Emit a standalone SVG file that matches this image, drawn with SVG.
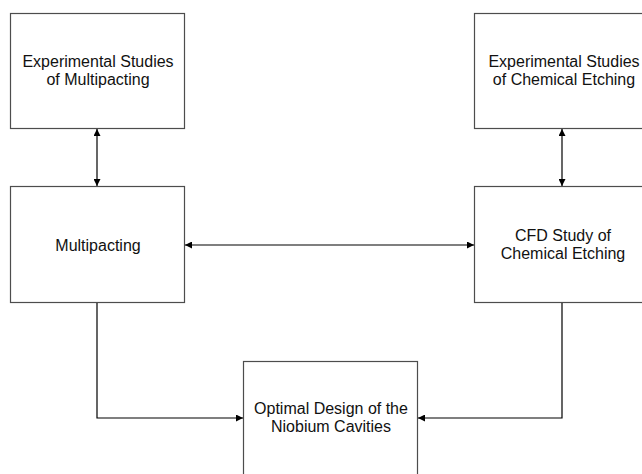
<svg xmlns="http://www.w3.org/2000/svg" width="642" height="474" viewBox="0 0 642 474">
<style>
.box{fill:#fff;stroke:#4d4d4d;stroke-width:1.2}
.lbl{font-family:"Liberation Sans",Arial,sans-serif;font-size:16px;fill:#111;text-anchor:middle}
.con{fill:none;stroke:#000;stroke-width:1.2}
</style>
<defs>
<marker id="ah" viewBox="0 0 10 10" refX="10" refY="5" markerWidth="8" markerHeight="7" markerUnits="userSpaceOnUse" orient="auto-start-reverse">
<path d="M0,0 L10,5 L0,10 z" fill="#000"/>
</marker>
</defs>
<rect width="642" height="474" fill="#fff"/>
<g id="exp-multipacting">
<rect class="box" x="10.5" y="13.5" width="174" height="115"/>
<text class="lbl" x="98" y="67">Experimental Studies</text>
<text class="lbl" x="98" y="85">of Multipacting</text>
</g>
<g id="exp-etching">
<rect class="box" x="474.5" y="13.5" width="174" height="115"/>
<text class="lbl" x="564" y="67">Experimental Studies</text>
<text class="lbl" x="564" y="85">of Chemical Etching</text>
</g>
<g id="multipacting">
<rect class="box" x="10.5" y="186.5" width="174" height="116"/>
<text class="lbl" x="98" y="251">Multipacting</text>
</g>
<g id="cfd-etching">
<rect class="box" x="474.5" y="186.5" width="174" height="116"/>
<text class="lbl" x="563" y="241">CFD Study of</text>
<text class="lbl" x="563" y="259">Chemical Etching</text>
</g>
<g id="optimal-design">
<rect class="box" x="243.5" y="361.5" width="174" height="120"/>
<text class="lbl" x="331" y="414">Optimal Design of the</text>
<text class="lbl" x="331" y="432">Niobium Cavities</text>
</g>
<g id="connectors">
<path class="con" d="M97,129 V186" marker-start="url(#ah)" marker-end="url(#ah)"/>
<path class="con" d="M562,129 V186" marker-start="url(#ah)" marker-end="url(#ah)"/>
<path class="con" d="M185,245 H474" marker-start="url(#ah)" marker-end="url(#ah)"/>
<path class="con" d="M97,303 V418 H243" marker-end="url(#ah)"/>
<path class="con" d="M562,303 V418 H418" marker-end="url(#ah)"/>
</g>
</svg>
